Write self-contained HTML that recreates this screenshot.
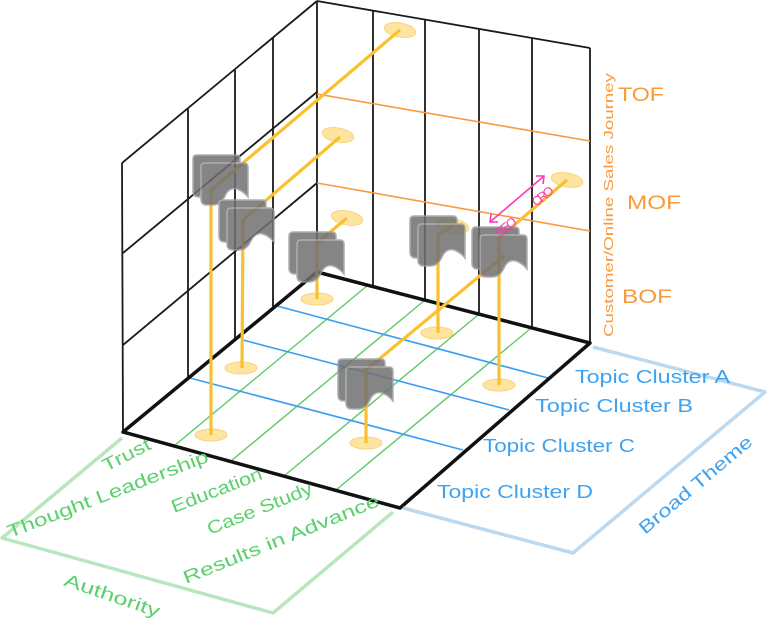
<!DOCTYPE html>
<html><head><meta charset="utf-8"><style>
html,body{margin:0;padding:0;background:#fff}
svg{display:block}
text{font-family:"Liberation Sans",sans-serif}
</style></head><body>
<svg width="767" height="622" viewBox="0 0 767 622" xmlns="http://www.w3.org/2000/svg">
<defs>
<path id="ic" d="M0,4 V36 Q0,42 6,42 H12 Q20,42 24,33 Q28,24 36,26 Q42,28 47,34 V4 Q47,0 43,0 H4 Q0,0 0,4 Z"/>
<g id="icon"><use href="#ic" fill="#707070" stroke="#a0a0a0" stroke-width="1.5"/><use href="#ic" x="8" y="8" fill="#707070" stroke="#a0a0a0" stroke-width="1.5"/></g>
</defs>
<g stroke="#1a1a1a" stroke-width="1.8" fill="none">
<line x1="123" y1="432" x2="122" y2="163"/>
<line x1="122" y1="163" x2="317" y2="1"/>
<line x1="188" y1="378" x2="188" y2="109"/>
<line x1="235" y1="340" x2="235" y2="70"/>
<line x1="273" y1="308" x2="273" y2="38"/>
<line x1="123" y1="253" x2="317" y2="92"/>
<line x1="123" y1="345" x2="317" y2="183"/>
<line x1="317" y1="1" x2="317" y2="272"/>
<line x1="317" y1="1" x2="590" y2="48"/>
<line x1="590" y1="48" x2="590" y2="343"/>
<line x1="373" y1="11" x2="373" y2="287"/>
<line x1="425" y1="20" x2="425" y2="300"/>
<line x1="479" y1="29" x2="479" y2="314"/>
<line x1="532" y1="38" x2="532" y2="328"/>
</g>
<g stroke="#f79a3c" stroke-width="1.6">
<line x1="317" y1="94" x2="590" y2="141"/>
<line x1="317" y1="183" x2="590" y2="231"/>
</g>
<g stroke="#5cc96a" stroke-width="1.4">
<line x1="174" y1="446" x2="368" y2="285"/>
<line x1="231" y1="461" x2="425" y2="300"/>
<line x1="284" y1="476" x2="478" y2="315"/>
<line x1="336" y1="490" x2="530" y2="329"/>
</g>
<g stroke="#3a9ef0" stroke-width="1.6">
<line x1="277" y1="306" x2="548" y2="378"/>
<line x1="243" y1="340" x2="509" y2="410"/>
<line x1="190" y1="378" x2="463" y2="450"/>
</g>
<polygon points="123,432 317,272 590,343 400,508" fill="none" stroke="#111" stroke-width="3.5" stroke-linejoin="round"/>
<g fill="#fde39c" stroke="#f8d27a" stroke-width="1" opacity="0.95">
<ellipse cx="211" cy="435" rx="16" ry="6"/>
<ellipse cx="241" cy="368" rx="16" ry="6"/>
<ellipse cx="317" cy="299" rx="16" ry="6"/>
<ellipse cx="437" cy="333" rx="16" ry="6"/>
<ellipse cx="499" cy="385" rx="16" ry="6"/>
<ellipse cx="366" cy="443" rx="16" ry="6"/>
<ellipse cx="400" cy="30" rx="16" ry="7" transform="rotate(10 400 30)"/>
<ellipse cx="338" cy="135" rx="16" ry="7" transform="rotate(10 338 135)"/>
<ellipse cx="347" cy="218" rx="16" ry="7" transform="rotate(10 347 218)"/>
<ellipse cx="453" cy="226" rx="16" ry="7" transform="rotate(10 453 226)"/>
<ellipse cx="567" cy="180" rx="16" ry="7" transform="rotate(10 567 180)"/>
</g>
<g stroke="#fbc02d" stroke-width="3.2" fill="none" stroke-linejoin="round">
<polyline points="211,435 211,190 400,30"/>
<polyline points="242,368 243,220 340,137"/>
<polyline points="317,299 317,243 347,218"/>
<polyline points="438,333 438,235 453,225"/>
<polyline points="499,385 499,238 567,180"/>
<polyline points="366,443 366,370 505,255"/>
</g>
<g opacity="0.85">
<use href="#icon" x="193" y="155"/>
<use href="#icon" x="219" y="200"/>
<use href="#icon" x="289" y="232"/>
<use href="#icon" x="410" y="216"/>
<use href="#icon" x="472" y="227"/>
<use href="#icon" x="338" y="359"/>
</g>
<g stroke="#ff3ab0" stroke-width="1.6" fill="none">
<line x1="490" y1="222" x2="544" y2="176"/>
<polyline points="491,214 490,222 498,222"/>
<polyline points="536,176 544,176 543,184"/>
</g>
<text x="0" y="0" font-size="13" fill="#ff3ab0" transform="translate(499,238) rotate(-38)" textLength="24">SEO</text>
<text x="0" y="0" font-size="13" fill="#ff3ab0" transform="translate(536,207) rotate(-38)" textLength="24">CRO</text>
<g fill="#f79a3c">
<text x="618" y="101" font-size="19" textLength="46" lengthAdjust="spacingAndGlyphs">TOF</text>
<text x="627" y="209" font-size="19" textLength="54" lengthAdjust="spacingAndGlyphs">MOF</text>
<text x="622" y="303" font-size="19" textLength="50" lengthAdjust="spacingAndGlyphs">BOF</text>
<text transform="translate(613,337) rotate(-90)" font-size="13" textLength="264" lengthAdjust="spacingAndGlyphs">Customer/Online Sales Journey</text>
</g>
<polyline points="593,347 765,392 573,553 403,508" fill="none" stroke="#bcd9f0" stroke-width="3.5" stroke-linejoin="round"/>
<polyline points="122,438 2,538 273,613 393,512" fill="none" stroke="#b8e6bf" stroke-width="3.5" stroke-linejoin="round"/>
<g fill="#3ea2f0" font-size="18">
<text x="575" y="383" textLength="155" lengthAdjust="spacingAndGlyphs">Topic Cluster A</text>
<text x="535" y="412" textLength="158" lengthAdjust="spacingAndGlyphs">Topic Cluster B</text>
<text x="483" y="452" textLength="152" lengthAdjust="spacingAndGlyphs">Topic Cluster C</text>
<text x="437" y="498" textLength="156" lengthAdjust="spacingAndGlyphs">Topic Cluster D</text>
<text transform="translate(645,535) rotate(-40)" textLength="142" lengthAdjust="spacingAndGlyphs">Broad Theme</text>
</g>
<g fill="#5cd06c" font-size="18">
<text transform="translate(106,472) rotate(-27)" textLength="52" lengthAdjust="spacingAndGlyphs">Trust</text>
<text transform="translate(10,538) rotate(-21)" textLength="214" lengthAdjust="spacingAndGlyphs">Thought Leadership</text>
<text transform="translate(174,513) rotate(-21)" textLength="96" lengthAdjust="spacingAndGlyphs">Education</text>
<text transform="translate(210,535) rotate(-22)" textLength="112" lengthAdjust="spacingAndGlyphs">Case Study</text>
<text transform="translate(186,584) rotate(-22)" textLength="210" lengthAdjust="spacingAndGlyphs">Results in Advance</text>
<text transform="translate(63,585) rotate(19)" textLength="100" lengthAdjust="spacingAndGlyphs">Authority</text>
</g>
</svg>
</body></html>
